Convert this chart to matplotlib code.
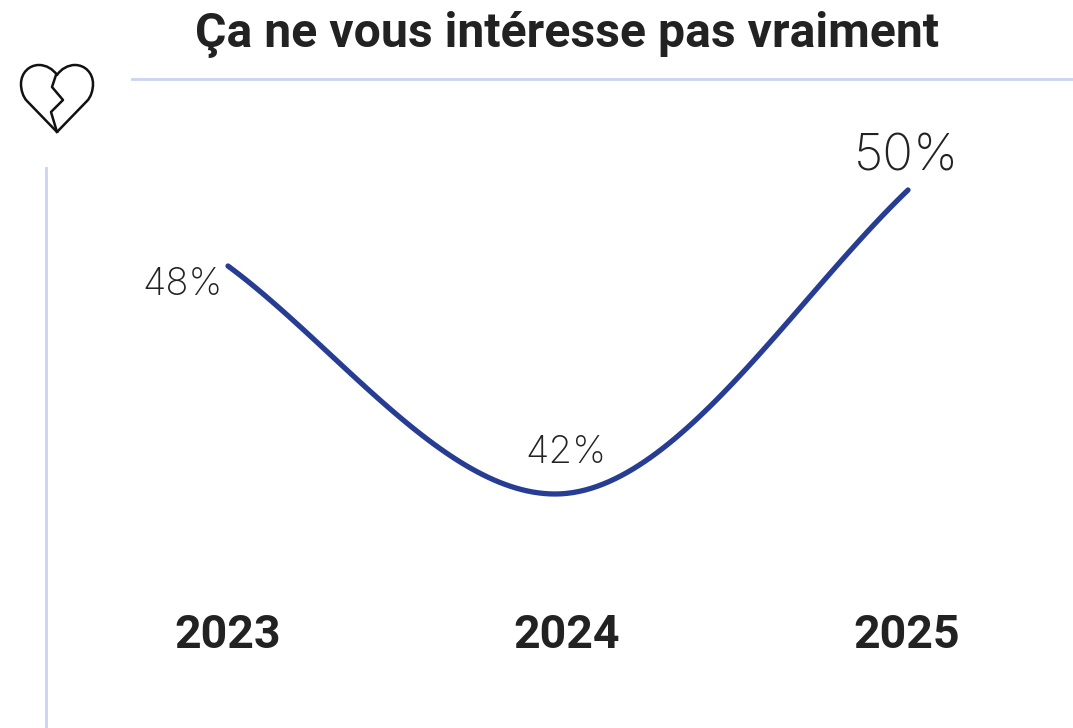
import numpy as np
import matplotlib
matplotlib.use("Agg")
import matplotlib.pyplot as plt
from matplotlib.path import Path
from matplotlib.patches import PathPatch

title = "Ça ne vous intéresse pas vraiment"
years = ["2023", "2024", "2025"]
values = [48, 42, 50]
labels = ["48%", "42%", "50%"]

W, H = 1073, 728
plt.rcParams['font.family'] = ['Roboto', 'DejaVu Sans']
fig = plt.figure(figsize=(W/100, H/100), dpi=100)
ax = fig.add_axes([0, 0, 1, 1])
ax.axis('off')
ax.set_xlim((0-228)/340, (W-228)/340)
y_at = lambda p: 48 - (p-266)/38
ax.set_ylim(y_at(H), y_at(0))

def hermite(x0, y0, x1, y1, m0, m1, n=60):
    t = np.linspace(0, 1, n)
    h = x1 - x0
    return (x0 + t*h,
            (2*t**3-3*t**2+1)*y0 + (t**3-2*t**2+t)*h*m0 + (-2*t**3+3*t**2)*y1 + (t**3-t**2)*h*m1)

xs = [0, 0.962, 2]
x1, y1 = hermite(xs[0], values[0], xs[1], values[1], -6.6, 0)
x2, y2 = hermite(xs[1], values[1], xs[2], values[2], 0, 8.6)
ax.plot(np.r_[x1, x2], np.r_[y1, y2], color="#273c93", lw=3.8, solid_capstyle='round')

def px(xp, yp):
    return (xp-228)/340, y_at(yp)

for (xp, yp, s, fs) in [(183, 285, labels[0], 27.5), (566, 453, labels[1], 27.5), (906, 157, labels[2], 36.5)]:
    ax.text(*px(xp, yp), s, ha='center', va='center', fontsize=fs, color="#222222",
            fontweight='light', family=['Inter', 'DejaVu Sans'])

for xp, s in zip([228, 567, 907], years):
    ax.text(*px(xp, 635), s, ha='center', va='center', fontsize=33.5, color="#222222", fontweight='bold')

ax.text(*px(567, 35), title, ha='center', va='center', fontsize=34.7, color="#222222", fontweight='bold')

ax.plot(*zip(px(132, 79), px(1073, 79)), color="#c9d3f2", lw=2)
ax.plot(*zip(px(46, 168), px(46, 728)), color="#c9d3f2", lw=2)

# broken heart icon
heart = [(57,132),(27,101),(23,97),(21,90),(21,84),(21,73),(29,65),(39,65),(46,65),(53,69),(57,75),
         (61,69),(68,65),(75,65),(85,65),(93,73),(93,84),(93,90),(91,97),(87,101),(57,132)]
codes = [Path.MOVETO, Path.LINETO] + [Path.CURVE4]*18 + [Path.LINETO]
ax.add_patch(PathPatch(Path([px(*c) for c in heart], codes), fc='none', ec='#111111', lw=1.8, joinstyle='round'))
crack = [(56,75),(52,87),(63,100),(51,112),(57,132)]
ax.plot(*zip(*[px(*c) for c in crack]), color='#111111', lw=1.8)

fig.savefig("out.png", dpi=100)
